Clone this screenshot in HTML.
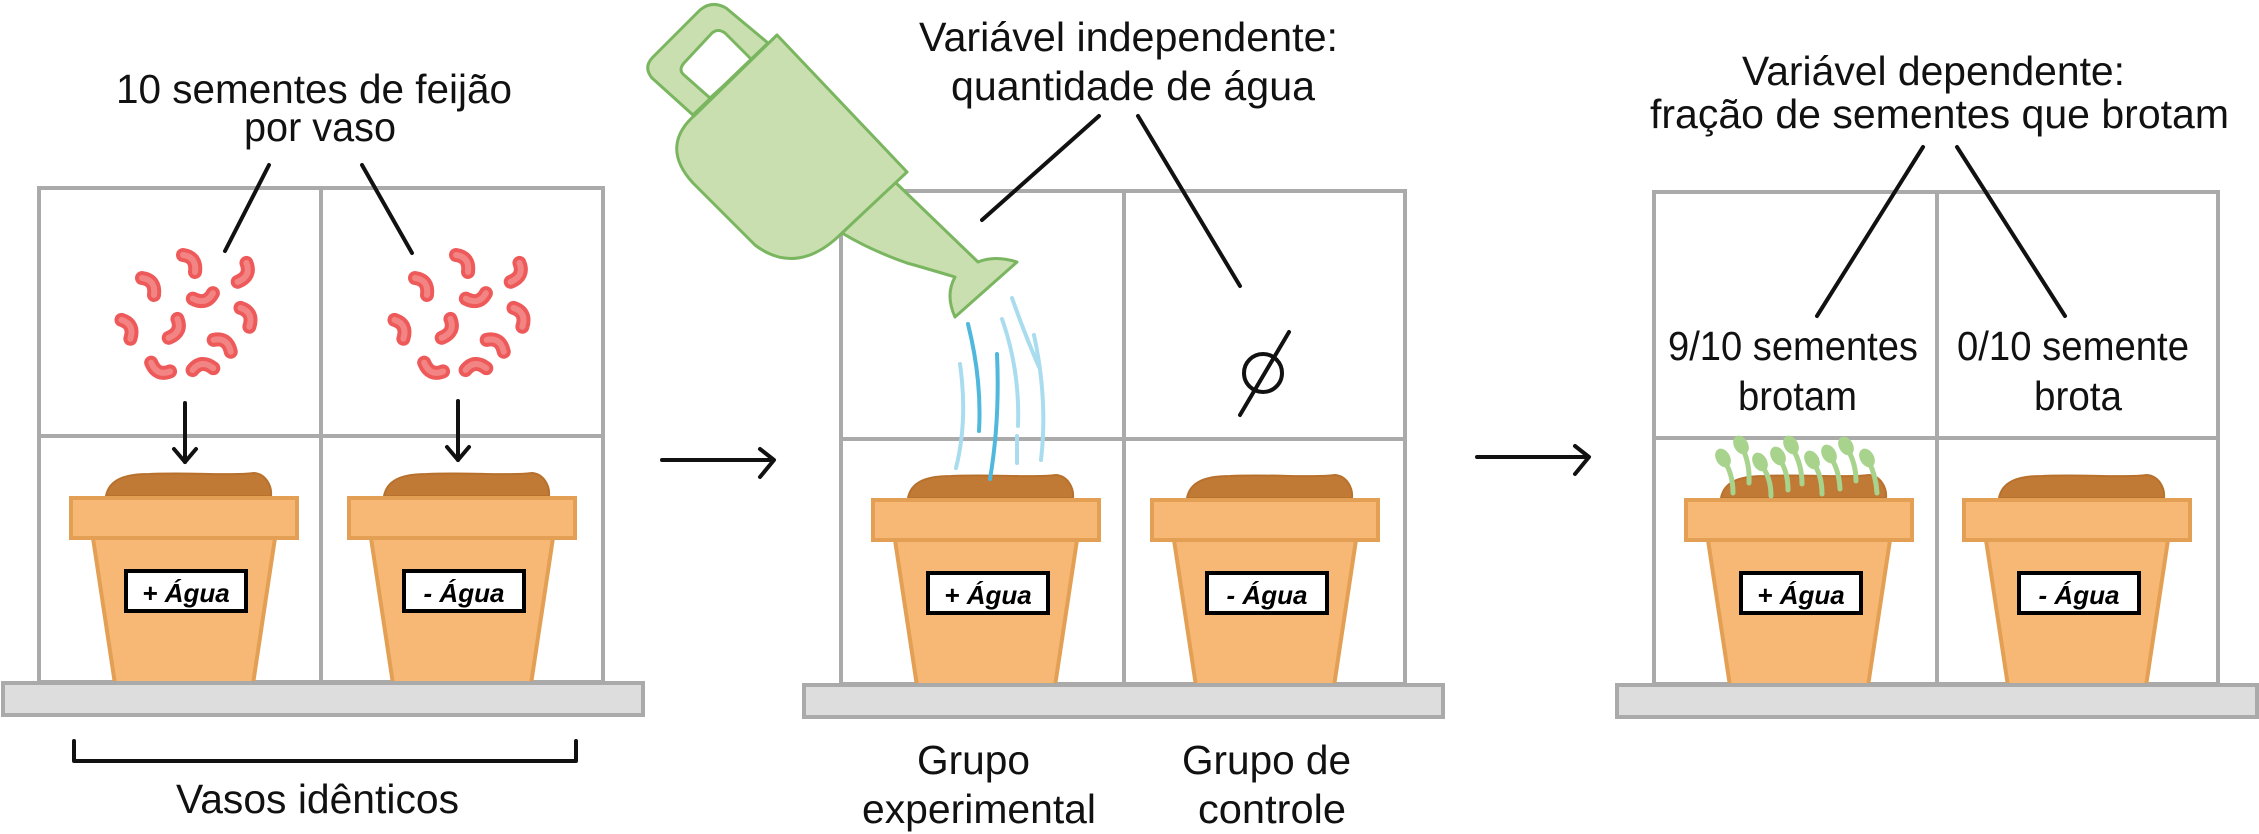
<!DOCTYPE html>
<html><head><meta charset="utf-8"><style>
html,body{margin:0;padding:0;background:#fff}
svg{display:block}
.t{font-family:"Liberation Sans",sans-serif;font-size:41px;fill:#111}
.lb{font-family:"Liberation Sans",sans-serif;font-style:italic;font-weight:bold;font-size:26px;fill:#000}
</style></head><body>
<svg width="2259" height="834" viewBox="0 0 2259 834" xmlns="http://www.w3.org/2000/svg">
<defs>
<g id="pot">
  <path d="M37,0 C40,-16 55,-22 80,-22 C120,-24 160,-20 185,-23 C197,-22 203,-10 202,0 Z" fill="#c07a35" stroke="#b8702d" stroke-width="2"/>
  <path d="M24,42 L206,42 L184,188 L46,188 Z" fill="#f6b874" stroke="#e3a055" stroke-width="4" stroke-linejoin="round"/>
  <rect x="2" y="2" width="226" height="40" fill="#f6b874" stroke="#e3a055" stroke-width="4"/>
  <rect x="57" y="75" width="120" height="40" fill="#fff" stroke="#000" stroke-width="4"/>
</g>
<g id="bean">
  <path d="M-7,-8 Q7,-6 5,9" fill="none" stroke="#ee5a5a" stroke-width="14" stroke-linecap="round"/>
  <path d="M-7,-8 Q7,-6 5,9" fill="none" stroke="#f28484" stroke-width="6" stroke-linecap="round"/>
</g>
<g id="seeds">
  <use href="#bean" transform="translate(190,263) rotate(0)"/>
  <use href="#bean" transform="translate(243,273) rotate(60)"/>
  <use href="#bean" transform="translate(149,286) rotate(0)"/>
  <use href="#bean" transform="translate(203,297) rotate(110)"/>
  <use href="#bean" transform="translate(246,317) rotate(10)"/>
  <use href="#bean" transform="translate(127,329) rotate(10)"/>
  <use href="#bean" transform="translate(174,329) rotate(60)"/>
  <use href="#bean" transform="translate(223,345) rotate(-20)"/>
  <use href="#bean" transform="translate(160,368) rotate(150)"/>
  <use href="#bean" transform="translate(203,368) rotate(-60)"/>
</g>
</defs>

<g fill="none" stroke="#aaa" stroke-width="4">
  <rect x="39" y="188" width="564" height="494"/><line x1="321" y1="188" x2="321" y2="682"/><line x1="39" y1="436" x2="603" y2="436"/>
  <rect x="841" y="191" width="564" height="493"/><line x1="1124" y1="191" x2="1124" y2="684"/><line x1="841" y1="439" x2="1405" y2="439"/>
  <rect x="1654" y="192" width="564" height="492"/><line x1="1937" y1="192" x2="1937" y2="684"/><line x1="1654" y1="438" x2="2218" y2="438"/>
</g>

<use href="#pot" x="69" y="496"/>
<use href="#pot" x="347" y="496"/>
<use href="#pot" x="871" y="498"/>
<use href="#pot" x="1150" y="498"/>
<use href="#pot" x="1684" y="498"/>
<use href="#pot" x="1962" y="498"/>
<text class="lb" x="186" y="602" text-anchor="middle">+ Água</text>
<text class="lb" x="464" y="602" text-anchor="middle">- Água</text>
<text class="lb" x="988" y="604" text-anchor="middle">+ Água</text>
<text class="lb" x="1267" y="604" text-anchor="middle">- Água</text>
<text class="lb" x="1801" y="604" text-anchor="middle">+ Água</text>
<text class="lb" x="2079" y="604" text-anchor="middle">- Água</text>

<g fill="#ddd" stroke="#aaa" stroke-width="4">
  <rect x="3" y="683" width="640" height="32"/>
  <rect x="804" y="685" width="639" height="32"/>
  <rect x="1617" y="685" width="640" height="32"/>
</g>

<use href="#seeds"/>
<use href="#seeds" x="273"/>

<g fill="none" stroke="#111" stroke-width="4" stroke-linecap="round" stroke-linejoin="round">
  <line x1="269" y1="165" x2="225" y2="251"/>
  <line x1="362" y1="165" x2="412" y2="253"/>
  <line x1="185" y1="403" x2="185" y2="462"/><path d="M174,449 L185,462 L196,449"/>
  <line x1="458" y1="401" x2="458" y2="460"/><path d="M447,447 L458,460 L469,447"/>
  <path d="M74,741 L74,761 L576,761 L576,741"/>
  <line x1="662" y1="460" x2="773" y2="460"/><path d="M760,449 L774,460 L760,477"/>
  <line x1="1477" y1="457" x2="1588" y2="457"/><path d="M1575,446 L1589,457 L1575,474"/>
  <line x1="1099" y1="116" x2="982" y2="220"/>
  <line x1="1138" y1="116" x2="1240" y2="286"/>
  <circle cx="1263" cy="373" r="19"/>
  <line x1="1289" y1="332" x2="1240" y2="415"/>
  <line x1="1923" y1="147" x2="1817" y2="316"/>
  <line x1="1957" y1="147" x2="2065" y2="316"/>
</g>

<g fill="none" stroke-linecap="round" stroke-width="4">
  <path d="M960,364 Q968,420 956,468" stroke="#a8dcee"/>
  <path d="M1002,319 Q1020,370 1018,426" stroke="#a8dcee"/>
  <path d="M1012,298 Q1025,335 1039,367" stroke="#a8dcee"/>
  <path d="M1034,335 Q1048,400 1041,460" stroke="#a8dcee"/>
  <path d="M1017,436 L1017,463" stroke="#a8dcee"/>
  <path d="M968,324 Q982,380 979,431" stroke="#4fb8dc"/>
  <path d="M997,354 Q1000,420 990,479" stroke="#4fb8dc"/>
</g>

<g fill="#c9dfb0" stroke="#7ab55f" stroke-width="3" stroke-linejoin="round">
  <path fill-rule="evenodd" d="M693,115 L652,78 Q643,67 653,57 L700,10 Q712,0 726,8 L768,43 Z M710,98 L684,75 Q678,70 684,63 L712,33 Q718,28 725,33 L752,60 Z"/>
  <path d="M895,182 L978,262 Q995,255 1017,262 L955,317 Q945,295 955,277 Q925,268 907,263 Q870,250 842,233 Z"/>
  <path d="M777,35 L907,172 L842,233 C815,260 785,268 755,245 L693,183 C670,158 672,135 695,115 Z"/>
</g>

<g fill="none" stroke="#a8d38d" stroke-width="5" stroke-linecap="round">
  <path d="M1725,462 Q1733,475 1733,493"/><path d="M1743,449 Q1750,465 1749,483"/>
  <path d="M1762,466 Q1771,478 1771,496"/><path d="M1780,460 Q1788,472 1788,490"/>
  <path d="M1793,449 Q1802,465 1802,484"/><path d="M1814,464 Q1822,476 1822,494"/>
  <path d="M1831,458 Q1839,470 1840,489"/><path d="M1848,450 Q1856,464 1856,481"/>
  <path d="M1869,462 Q1876,476 1877,493"/>
</g>
<g fill="#a8d38d">
  <ellipse cx="1723" cy="458" rx="7" ry="10" transform="rotate(-30 1723 458)"/>
  <ellipse cx="1741" cy="445" rx="7" ry="10" transform="rotate(-30 1741 445)"/>
  <ellipse cx="1760" cy="462" rx="7" ry="10" transform="rotate(-30 1760 462)"/>
  <ellipse cx="1778" cy="456" rx="7" ry="10" transform="rotate(-30 1778 456)"/>
  <ellipse cx="1791" cy="445" rx="7" ry="10" transform="rotate(-30 1791 445)"/>
  <ellipse cx="1812" cy="460" rx="7" ry="10" transform="rotate(-30 1812 460)"/>
  <ellipse cx="1829" cy="454" rx="7" ry="10" transform="rotate(-30 1829 454)"/>
  <ellipse cx="1846" cy="446" rx="7" ry="10" transform="rotate(-30 1846 446)"/>
  <ellipse cx="1867" cy="458" rx="7" ry="10" transform="rotate(-30 1867 458)"/>
</g>

<text class="t" x="116" y="103" textLength="396" lengthAdjust="spacingAndGlyphs">10 sementes de feijão</text>
<text class="t" x="244" y="141" textLength="152" lengthAdjust="spacingAndGlyphs">por vaso</text>
<text class="t" x="176" y="813" textLength="283" lengthAdjust="spacingAndGlyphs">Vasos idênticos</text>
<text class="t" x="919" y="51" textLength="419" lengthAdjust="spacingAndGlyphs">Variável independente:</text>
<text class="t" x="951" y="100" textLength="364" lengthAdjust="spacingAndGlyphs">quantidade de água</text>
<text class="t" x="917" y="774" textLength="113" lengthAdjust="spacingAndGlyphs">Grupo</text>
<text class="t" x="862" y="823" textLength="234" lengthAdjust="spacingAndGlyphs">experimental</text>
<text class="t" x="1182" y="774" textLength="169" lengthAdjust="spacingAndGlyphs">Grupo de</text>
<text class="t" x="1198" y="823" textLength="148" lengthAdjust="spacingAndGlyphs">controle</text>
<text class="t" x="1742" y="85" textLength="383" lengthAdjust="spacingAndGlyphs">Variável dependente:</text>
<text class="t" x="1650" y="128" textLength="579" lengthAdjust="spacingAndGlyphs">fração de sementes que brotam</text>
<text class="t" x="1668" y="360" textLength="250" lengthAdjust="spacingAndGlyphs">9/10 sementes</text>
<text class="t" x="1738" y="410" textLength="119" lengthAdjust="spacingAndGlyphs">brotam</text>
<text class="t" x="1957" y="360" textLength="232" lengthAdjust="spacingAndGlyphs">0/10 semente</text>
<text class="t" x="2034" y="410" textLength="88" lengthAdjust="spacingAndGlyphs">brota</text>
</svg>
</body></html>
